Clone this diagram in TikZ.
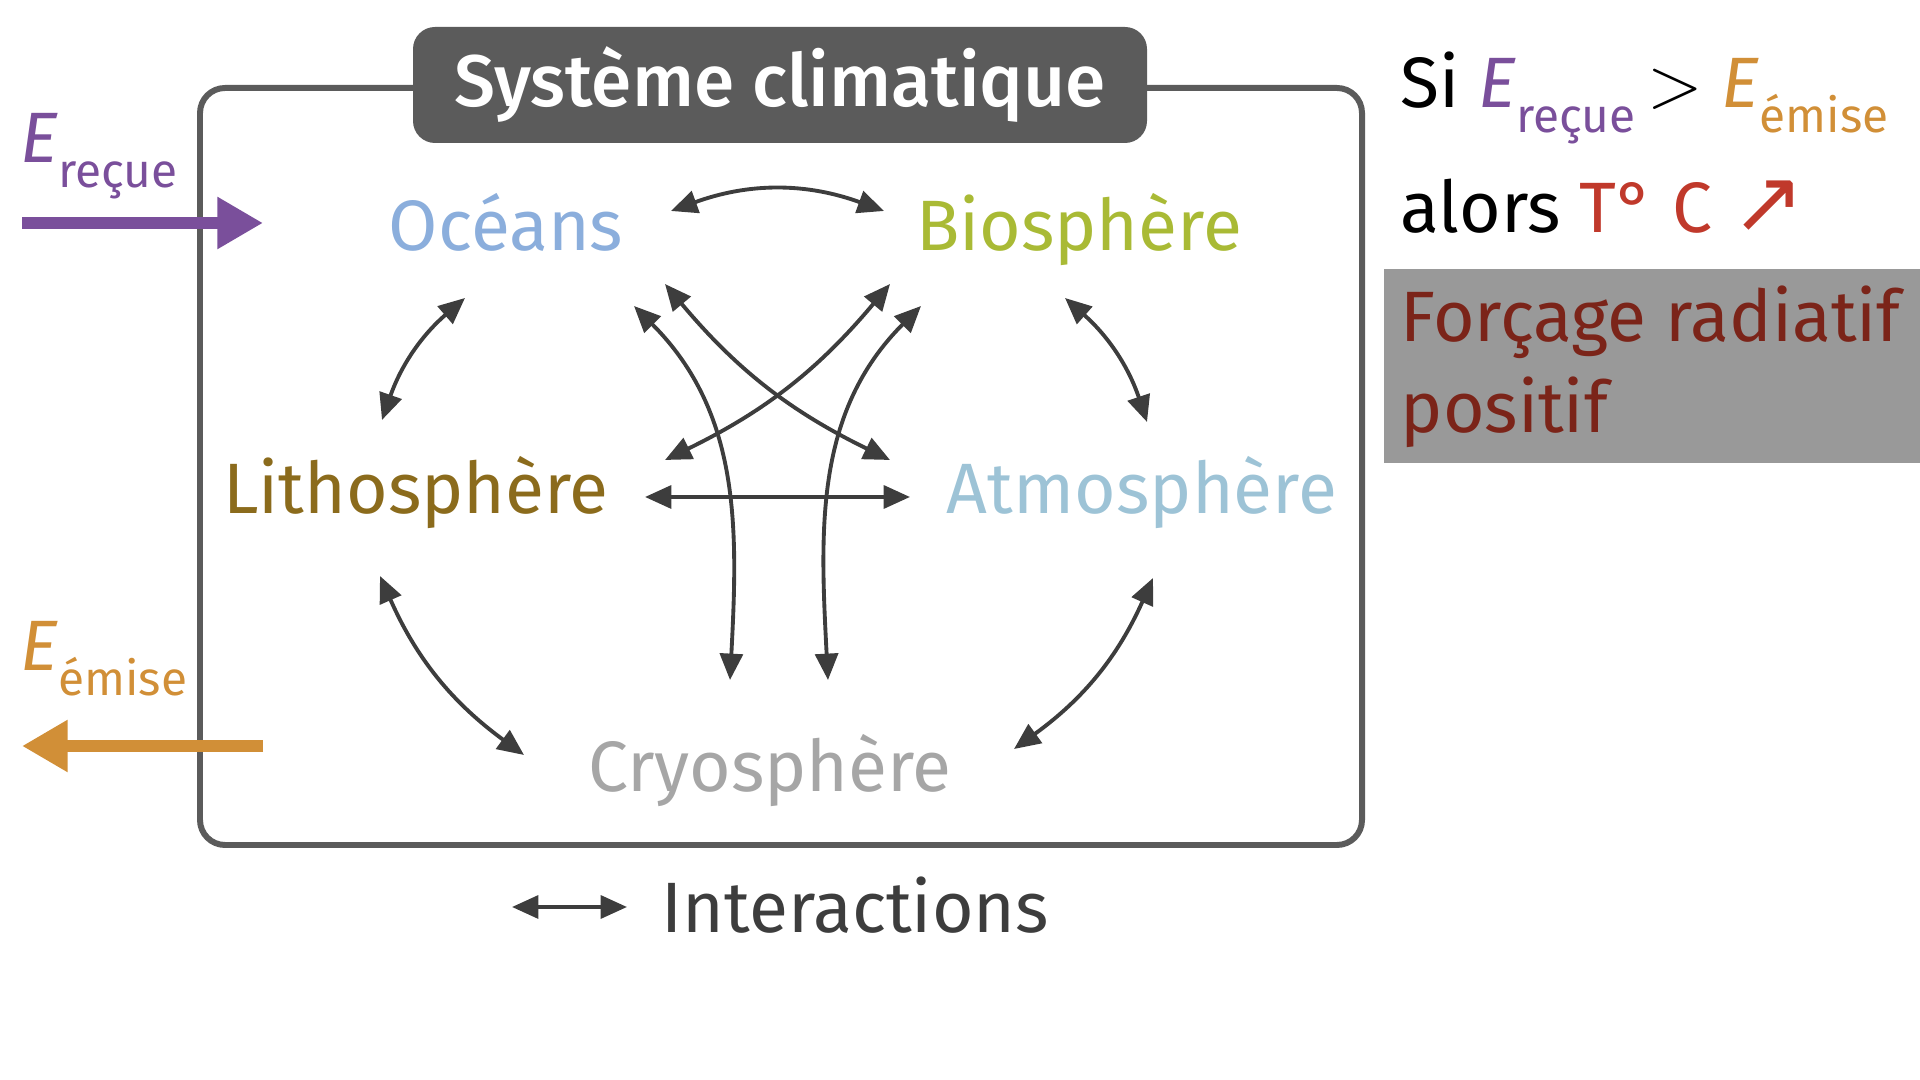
\documentclass[tikz,border=0pt]{standalone}
\usepackage{fontspec}
\setmainfont{Fira Sans}[BoldFont={Fira Sans Medium}]
\newfontfamily\arrowfont{DejaVu Sans}
\usetikzlibrary{arrows.meta,calc}
\definecolor{framegray}{HTML}{5B5B5B}
\definecolor{linkgray}{HTML}{3D3D3D}
\definecolor{oceanblue}{HTML}{8BAEDC}
\definecolor{biogreen}{HTML}{A9BA35}
\definecolor{lithobrown}{HTML}{8B6B1C}
\definecolor{atmoblue}{HTML}{9DC3D6}
\definecolor{cryogray}{HTML}{A6A6A6}
\definecolor{recuviolet}{HTML}{7A4F9B}
\definecolor{emisorange}{HTML}{D18F37}
\definecolor{tred}{HTML}{C0392B}
\definecolor{forcered}{HTML}{7B2419}
\definecolor{boxgray}{HTML}{999999}
\newcommand{\Eidx}[1]{\textit{E}\raisebox{-7pt}{\fontsize{13.6}{13.6}\selectfont #1}}
\begin{document}
\begin{tikzpicture}[
  every node/.style={font=\fontsize{20.3}{26}\selectfont, inner sep=0pt},
  sphere/.style={anchor=base},
  link/.style={<->, >={Triangle[length=7.5pt,width=6.5pt]}, line width=1.1pt, draw=linkgray},
  flux/.style={-{Triangle[length=13pt,width=14pt]}, line width=3.2pt}
]
\useasboundingbox (0,0) rectangle (19.2,10.8);

% cadre du systeme
\draw[framegray, line width=1.7pt, rounded corners=0.25cm] (2.00,2.35) rectangle (13.62,9.92);
\node[fill=framegray, text=white, rounded corners=0.22cm, minimum width=7.34cm, minimum height=1.16cm,
  font=\fontsize{20.8}{26}\selectfont\bfseries] (titre) at (7.80,9.95) {Système climatique};

% composantes
\node[sphere, text=oceanblue] (oceans) at (5.06,8.29) {Océans};
\node[sphere, text=biogreen] (bio) at (10.79,8.29) {Biosphère};
\node[sphere, text=lithobrown] (litho) at (4.16,5.66) {Lithosphère};
\node[sphere, text=atmoblue] (atmo) at (11.42,5.66) {Atmosphère};
\node[sphere, text=cryogray] (cryo) at (7.70,2.88) {Cryosphère};

% interactions
\draw[link] ($(oceans.base)+(1.65,0.40)$) to[bend left=20] ($(bio.base)+(-1.95,0.40)$);
\draw[link] ($(oceans.base)+(-0.41,-0.47)$) to[bend right=15] ($(litho.base)+(-0.34,0.94)$);
\draw[link] ($(bio.base)+(-0.14,-0.47)$) to[bend left=15] ($(atmo.base)+(0.05,0.92)$);
\draw[link] ($(litho.base)+(-0.36,-0.62)$) to[bend right=15] ($(cryo.base)+(-2.46,0.37)$);
\draw[link] ($(atmo.base)+(0.11,-0.64)$) to[bend left=15] ($(cryo.base)+(2.44,0.43)$);
\draw[link] ($(litho.base)+(2.29,0.17)$) -- ($(atmo.base)+(-2.32,0.17)$);
\draw[link] ($(oceans.base)+(1.59,-0.33)$) to[bend right=12] ($(atmo.base)+(-2.52,0.54)$);
\draw[link] ($(bio.base)+(-1.89,-0.33)$) to[bend left=12] ($(litho.base)+(2.49,0.54)$);
\draw[link] ($(oceans.base)+(1.28,-0.55)$) to[out=-45,in=87] ($(cryo.base)+(-0.40,1.12)$);
\draw[link] ($(bio.base)+(-1.58,-0.55)$) to[out=-135,in=93] ($(cryo.base)+(0.58,1.12)$);

% energie recue / emise
\coordinate (recuA) at (0.22,8.57);
\coordinate (recuB) at (2.63,8.57);
\draw[flux, recuviolet] (recuA) -- (recuB);
\node[anchor=base west, text=recuviolet] (erecu) at (0.20,9.17) {\Eidx{reçue}};
\coordinate (emisA) at (2.63,3.34);
\coordinate (emisB) at (0.22,3.34);
\draw[flux, emisorange] (emisA) -- (emisB);
\node[anchor=base west, text=emisorange] (eemis) at (0.20,4.09) {\Eidx{émise}};

% bilan
\node[anchor=base west] (si) at (14.00,9.72) {Si \textcolor{recuviolet}{\Eidx{reçue}}\,$>$ \textcolor{emisorange}{\Eidx{émise}}};
\node[anchor=base west] (alors) at (14.00,8.47) {alors \textcolor{tred}{T° C {\arrowfont\fontsize{25}{25}\selectfont ↗}}};
\fill[boxgray] (13.84,6.17) rectangle (19.20,8.11);
\node[anchor=north west, align=left, text=forcered] (forcage) at (14.00,7.95) {Forçage radiatif\\positif};

% legende
\coordinate (legA) at (5.12,1.73);
\coordinate (legB) at (6.27,1.73);
\draw[link] (legA) -- (legB);
\node[anchor=base west, text=linkgray] (legende) at (6.61,1.47) {Interactions};
\end{tikzpicture}
\end{document}
